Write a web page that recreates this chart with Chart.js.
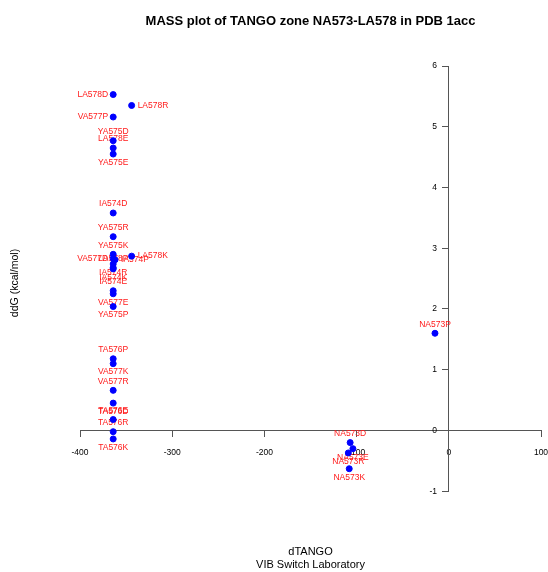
<!DOCTYPE html>
<html>
<head>
<meta charset="utf-8">
<title>MASS plot of TANGO zone NA573-LA578</title>
<script src="https://cdn.jsdelivr.net/npm/chart.js@4.4.1/dist/chart.umd.min.js"></script>
<style>
  html, body { margin: 0; padding: 0; background: #fff; }
  canvas { display: block; }
</style>
</head>
<body>
<canvas id="massChart" width="548" height="572"></canvas>
<script>
// mutations in the TANGO zone, with dTANGO (x) and ddG (y)
const mutations = [
  'LA578D', 'LA578R', 'VA577P', 'YA575D', 'LA578E', 'YA575E',
  'IA574D', 'YA575R', 'YA575K', 'LA578K', 'VA577D', 'IA574P',
  'LA578P', 'IA574R', 'IA574K', 'IA574E', 'VA577E', 'YA575P',
  'NA573P', 'TA576P', 'VA577K', 'VA577R', 'TA576D', 'TA576E',
  'TA576R', 'TA576K', 'NA573D', 'NA573E', 'NA573R', 'NA573K'
]
const dTango = [
  -364, -344, -364, -364, -364, -364,
  -364, -364, -364, -344, -364, -362,
  -364, -364, -364, -364, -364, -364,
  -15, -364, -364, -364, -364, -364,
  -364, -364, -107, -104, -109, -108
]
const ddG = [
  5.53, 5.35, 5.16, 4.77, 4.65, 4.55,
  3.58, 3.19, 2.90, 2.87, 2.83, 2.81,
  2.68, 2.74, 2.66, 2.30, 2.25, 2.04,
  1.60, 1.18, 1.10, 0.66, 0.45, 0.18,
  -0.02, -0.14, -0.20, -0.30, -0.37, -0.63
]
// which side of the point each label sits on
const labelSide = [
  'left', 'right', 'left', 'above', 'above', 'below',
  'above', 'above', 'above', 'right', 'left', 'right',
  'above', 'below', 'below', 'above', 'below', 'below',
  'above', 'above', 'below', 'above', 'below', 'above',
  'above', 'below', 'above', 'below', 'below', 'below'
]
const xTicks = [-400, -300, -200, -100, 0, 100]
const yTicks = [-1, 0, 1, 2, 3, 4, 5, 6]

const FONT = '"Liberation Sans", Arial, Helvetica, sans-serif'

const pointLabels = {
  id: 'pointLabels',
  beforeDatasetsDraw(chart) {
    const ctx = chart.ctx
    const meta = chart.getDatasetMeta(0)
    ctx.save()
    ctx.font = '8.5px ' + FONT
    ctx.fillStyle = '#ff1a1a'
    ctx.textBaseline = 'middle'
    meta.data.forEach((pt, i) => {
      const side = labelSide[i]
      let x = pt.x, y = pt.y
      if (side === 'left') { ctx.textAlign = 'right'; x -= 5 }
      else if (side === 'right') { ctx.textAlign = 'left'; x += 6 }
      else if (side === 'above') { ctx.textAlign = 'center'; y -= 9 }
      else { ctx.textAlign = 'center'; y += 8.5 }
      ctx.fillText(mutations[i], x, y)
    })
    ctx.restore()
  }
}

const yAxisTitle = {
  id: 'yAxisTitle',
  afterDraw(chart) {
    const ctx = chart.ctx
    ctx.save()
    ctx.font = '10.5px ' + FONT
    ctx.fillStyle = '#000'
    ctx.textAlign = 'center'
    ctx.textBaseline = 'middle'
    ctx.translate(15, 283)
    ctx.rotate(-Math.PI / 2)
    ctx.fillText('ddG (kcal/mol)', 0, 0)
    ctx.restore()
  }
}

// the axes cross at the origin, so no room is kept for edge labels
const noEdgePadding = axis => {
  axis.paddingLeft = 0
  axis.paddingRight = 0
  axis.paddingTop = 0
  axis.paddingBottom = 0
}

new Chart(document.getElementById('massChart'), {
  type: 'scatter',
  data: {
    datasets: [{
      label: 'mutations',
      data: dTango.map((x, i) => ({ x: x, y: ddG[i] })),
      backgroundColor: '#0000ff',
      borderColor: '#0000ff',
      pointRadius: 3,
      pointHoverRadius: 3
    }]
  },
  options: {
    responsive: false,
    animation: false,
    devicePixelRatio: 1,
    layout: {
      padding: { left: 80, right: 7, top: 0, bottom: 0 }
    },
    plugins: {
      legend: { display: false },
      tooltip: { enabled: false },
      title: {
        display: true,
        text: 'MASS plot of TANGO zone NA573-LA578 in PDB 1acc',
        color: '#000',
        font: { family: FONT, size: 13, weight: 'bold', lineHeight: 1.2 },
        padding: { top: 14, bottom: 36.4 }
      },
      subtitle: {
        display: true,
        position: 'bottom',
        text: ['dTANGO', 'VIB Switch Laboratory'],
        color: '#000',
        font: { family: FONT, size: 11, lineHeight: 1.2 },
        padding: { top: 54.4, bottom: 0 }
      }
    },
    scales: {
      x: {
        type: 'linear',
        position: { y: 0 },
        min: -400,
        max: 100,
        afterBuildTicks: axis => { axis.ticks = xTicks.map(v => ({ value: v })) },
        afterFit: noEdgePadding,
        ticks: {
          color: '#000',
          font: { family: FONT, size: 8.5 },
          padding: 11,
          maxRotation: 0
        },
        grid: {
          drawOnChartArea: false,
          drawTicks: true,
          tickLength: 6,
          color: '#555'
        },
        border: { display: true, color: '#555', width: 1 }
      },
      y: {
        type: 'linear',
        position: { x: 0 },
        min: -1,
        max: 6,
        afterBuildTicks: axis => { axis.ticks = yTicks.map(v => ({ value: v })) },
        afterFit: noEdgePadding,
        ticks: {
          color: '#000',
          font: { family: FONT, size: 8.5 },
          // labels of a centred y axis sit on the axis line, spaces push them left
          callback: value => value + '     '
        },
        grid: {
          drawOnChartArea: false,
          drawTicks: true,
          tickLength: 6,
          color: '#555'
        },
        border: { display: true, color: '#555', width: 1 }
      }
    }
  },
  plugins: [pointLabels, yAxisTitle]
})
</script>
</body>
</html>
